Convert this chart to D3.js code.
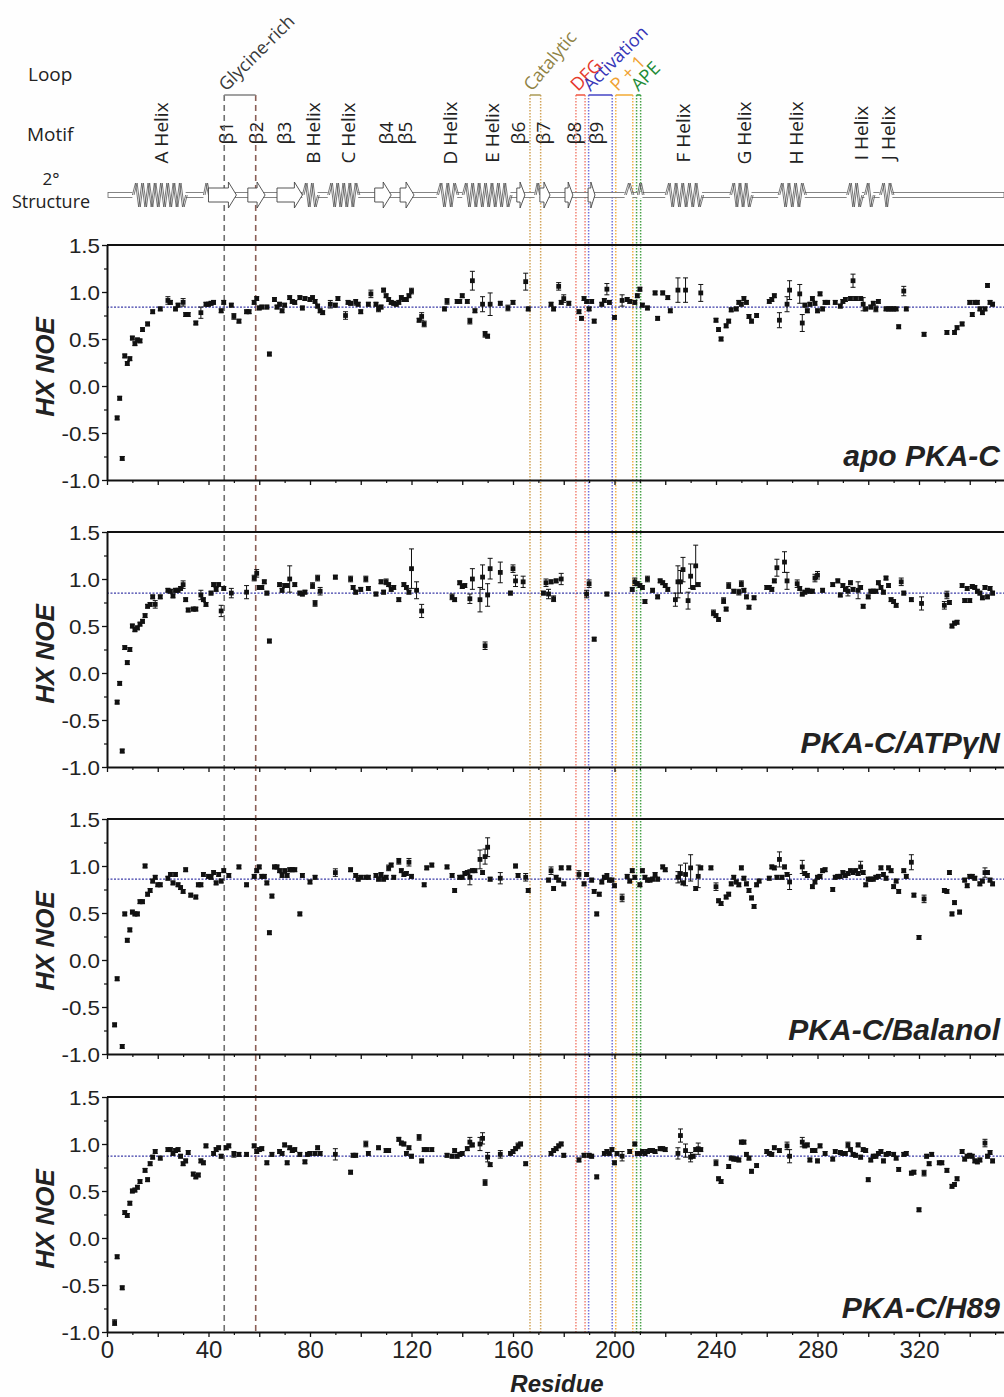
<!DOCTYPE html>
<html>
<head>
<meta charset="utf-8">
<script src="https://cdn.jsdelivr.net/npm/d3@7"></script>
<style>
  body { margin: 0; background: #fefefe; }
  svg { display: block; }
</style>
</head>
<body>
<svg id="chart" width="1004" height="1397"></svg>
<script>
// ---- Data: [residue, HX NOE, error] ----
const apoData = [[4,-0.34],[5,-0.13],[6,-0.77],[7,0.32],[8,0.24],[9,0.29],[10,0.51],[11,0.45],[12,0.49],[13,0.48],[14,0.60],[16,0.66],[18,0.79],[21,0.82],[24,0.91,0.04],[25,0.89],[27,0.82],[28,0.86],[30,0.89,0.04],[31,0.76],[32,0.76],[35,0.67],[37,0.78,0.06],[39,0.87],[40,0.87],[41,0.88],[42,0.89],[45,0.80],[46,0.89],[49,0.86],[50,0.74,0.03],[52,0.69],[55,0.79],[56,0.79],[58,0.89],[59,0.93],[60,0.83],[61,0.84],[63,0.84],[64,0.34],[66,0.92],[67,0.84],[68,0.87],[69,0.80],[70,0.86],[72,0.94],[73,0.90],[74,0.89],[76,0.94],[77,0.83],[78,0.93],[80,0.92],[81,0.94],[82,0.90],[83,0.85],[84,0.80],[85,0.78],[88,0.87,0.04],[90,0.86],[91,0.93],[94,0.75,0.04],[95,0.89],[96,0.88],[98,0.89,0.03],[99,0.87],[100,0.79],[103,0.87],[104,0.98,0.04],[106,0.87],[107,0.82,0.03],[108,0.84],[109,1.02],[110,0.96],[111,0.92],[112,0.89],[113,0.88],[114,0.87],[115,0.89],[116,0.94],[117,0.92],[118,0.92],[119,0.96],[120,1.01,0.03],[123,0.70],[124,0.74,0.04],[125,0.66,0.03],[133,0.82],[134,0.90,0.03],[138,0.90],[139,0.90],[140,0.96],[142,0.90],[143,0.69,0.03],[144,1.12,0.10],[145,0.80],[148,0.87,0.08],[149,0.55,0.03],[150,0.53],[151,0.87,0.12],[155,0.88],[158,0.83,0.03],[160,0.89],[165,1.11,0.09],[166,0.82],[175,0.87],[176,0.82],[178,1.06,0.04],[179,0.89],[180,0.93,0.04],[182,0.88],[186,0.79],[187,0.72],[188,0.93],[189,0.90],[190,0.82],[191,0.90],[192,0.69],[195,0.87],[196,0.91],[197,1.03,0.06],[198,0.89],[200,0.73],[203,0.91,0.06],[205,0.92],[206,0.90],[208,0.89],[209,0.96],[210,1.03],[211,0.86],[213,0.83],[216,0.99],[217,0.72],[219,0.99],[221,0.94],[222,0.80],[225,1.02,0.13],[228,1.02,0.13],[234,0.99,0.09],[240,0.70],[241,0.60],[242,0.50],[244,0.64],[245,0.69],[246,0.81],[248,0.82],[249,0.89],[250,0.87],[251,0.93],[252,0.89],[253,0.74],[254,0.69],[256,0.75],[261,0.90],[262,0.92],[263,0.96],[265,0.70,0.08],[268,0.87,0.08],[269,1.02,0.10],[273,0.98,0.10],[274,0.67,0.09],[275,0.86],[276,0.80],[277,0.87],[278,0.93],[279,0.88],[280,0.80],[281,0.98],[282,0.82],[283,0.89],[284,0.89],[287,0.89],[289,0.85],[290,0.90],[291,0.92],[293,0.93],[294,1.12,0.07],[295,0.93],[297,0.93],[298,0.87,0.07],[299,0.82],[301,0.84],[302,0.88],[303,0.82,0.03],[304,0.90],[307,0.82],[308,0.82],[309,0.82],[310,0.82],[311,0.82],[312,0.63],[314,1.01,0.05],[315,0.82],[322,0.55],[331,0.57],[334,0.57],[335,0.62],[337,0.66],[340,0.89],[341,0.76],[342,0.89],[343,0.89],[344,0.82],[345,0.78],[346,0.82],[347,1.07],[348,0.89],[349,0.87]];

const atpData = [[4,-0.31],[5,-0.11],[6,-0.83],[7,0.27],[8,0.11],[9,0.25],[10,0.50],[11,0.46],[12,0.48],[13,0.52],[14,0.55],[15,0.61],[16,0.71],[17,0.73],[18,0.81],[19,0.73,0.04],[21,0.81],[24,0.88],[25,0.87],[26,0.82],[27,0.88],[28,0.88],[29,0.90],[30,0.94,0.04],[31,0.78],[32,0.67],[34,0.68],[35,0.68],[37,0.83,0.05],[38,0.78],[39,0.73],[41,0.85],[42,0.94],[43,0.89],[44,0.94],[45,0.66,0.06],[46,0.90],[49,0.85,0.05],[55,0.86,0.07],[58,1.01,0.03],[59,1.06,0.04],[60,0.91],[61,0.91],[62,0.97],[63,0.85],[64,0.34],[68,0.94],[69,0.88],[70,0.93],[71,0.93],[72,1.00,0.14],[74,0.94],[76,0.85],[77,0.84],[78,0.86],[81,0.93,0.03],[82,0.74,0.03],[83,1.01,0.03],[84,0.87,0.04],[90,1.02],[96,1.00,0.03],[97,0.91],[98,0.86],[100,0.89],[102,1.00,0.03],[103,0.90],[106,0.84],[108,0.97],[109,0.86],[110,0.97,0.03],[111,0.94],[112,0.89],[113,0.91],[115,0.78],[117,0.94],[118,0.91],[119,0.86],[120,1.11,0.21],[122,0.88,0.09],[124,0.66,0.07],[136,0.81,0.03],[137,0.78],[139,0.96],[140,0.92],[141,0.93],[143,0.79,0.05],[144,1.00,0.11],[147,0.78,0.13],[148,1.02,0.13],[149,0.29,0.04],[150,0.83,0.12],[151,1.11,0.11],[155,1.07,0.11],[159,0.85],[160,1.11,0.04],[161,0.98,0.06],[164,0.97,0.06],[172,0.85],[173,0.96,0.04],[174,0.84,0.05],[175,0.97],[176,0.79,0.03],[177,0.98],[179,1.00,0.06],[189,0.84,0.04],[190,0.95,0.04],[192,0.36],[197,0.84],[207,0.89],[208,0.97,0.04],[209,0.95],[210,0.93],[211,0.91],[212,0.76],[213,1.00,0.03],[215,0.88],[217,0.81],[218,0.98],[219,0.96],[220,0.93],[221,0.89],[224,0.78,0.07],[225,0.97,0.17],[226,0.97,0.12],[227,1.10,0.13],[229,0.77,0.09],[230,1.03,0.13],[231,0.91],[232,1.14,0.22],[233,0.94],[239,0.64,0.03],[240,0.61],[241,0.57],[243,0.77,0.03],[244,0.68],[245,0.93,0.03],[247,0.87],[249,0.86,0.03],[250,0.95,0.03],[251,0.88],[252,0.81],[253,0.70],[255,0.80],[260,0.91],[261,0.91],[262,0.89],[263,0.98],[264,1.12,0.09],[267,1.18,0.11],[268,0.98,0.09],[272,0.95,0.04],[273,0.90],[274,0.84],[275,0.86],[276,0.88],[277,0.87],[278,0.87],[279,1.01,0.04],[280,1.04,0.04],[282,0.88],[286,0.94],[288,0.98],[289,0.83],[290,0.93],[291,0.89],[292,0.87,0.05],[293,0.96],[294,0.89],[296,0.88,0.09],[297,0.91],[298,0.71],[300,0.81],[301,0.87],[302,0.87],[303,0.87],[304,0.96],[305,0.91],[306,0.86],[307,1.01],[308,0.93],[309,0.78],[310,0.76],[311,0.72],[313,0.97,0.04],[314,0.85],[317,0.78],[321,0.74,0.07],[330,0.72,0.04],[331,0.83,0.04],[332,0.75],[333,0.50],[334,0.53],[335,0.54],[337,0.93],[338,0.77],[339,0.90],[340,0.77],[341,0.92],[342,0.91],[343,0.87],[344,0.85],[345,0.80],[346,0.91],[347,0.81],[348,0.90],[349,0.85]];

const balanolData = [[3,-0.69],[4,-0.20],[6,-0.92],[7,0.49],[8,0.21],[9,0.32],[10,0.51],[11,0.49],[12,0.49],[13,0.62],[14,0.62],[15,1.00],[16,0.70],[17,0.74],[18,0.84],[19,0.88],[20,0.80],[21,0.80],[24,0.87],[25,0.91],[26,0.82],[27,0.91],[28,0.80],[29,0.77],[30,0.73],[31,0.96],[33,0.69],[35,0.67],[36,0.80],[37,0.80],[38,0.91],[40,0.89],[41,0.88],[42,0.93],[43,0.82],[44,0.91],[45,0.84],[46,0.95],[48,0.90],[52,0.99],[55,0.80],[58,0.89],[59,0.95],[60,0.99],[61,0.89],[62,0.89],[63,0.82],[64,0.29],[65,0.68],[66,0.99],[67,0.99],[68,0.95],[69,0.90],[70,0.95],[71,0.90],[72,0.96],[73,0.96],[74,0.96],[76,0.49],[77,0.90],[80,0.83],[82,0.88],[90,0.93,0.04],[96,0.96],[98,0.90],[99,0.86],[100,0.88],[102,0.88],[103,0.88],[106,0.90],[107,0.86],[108,0.91],[109,0.86],[110,0.88],[111,0.98,0.03],[112,1.01],[113,0.88],[115,1.05,0.03],[116,0.95],[117,0.91],[118,0.92],[119,1.04,0.04],[120,0.89],[125,0.80],[126,0.98],[128,1.01],[134,0.99],[136,0.90],[137,0.74],[139,0.88],[140,0.88],[141,0.92],[142,0.93],[143,0.88,0.08],[144,0.95],[145,0.95],[147,1.07,0.10],[148,0.93],[149,1.10,0.08],[150,1.20,0.10],[151,0.86],[155,0.87,0.06],[161,1.00],[162,0.90],[165,0.88,0.04],[166,0.74],[174,0.85],[175,0.95,0.04],[176,0.76],[177,0.88],[178,0.85],[179,0.98],[180,0.81],[182,0.98],[186,0.91,0.04],[188,0.81],[189,0.91],[191,0.85],[192,0.73],[193,0.49],[194,0.70],[195,0.83],[196,0.88],[197,0.89,0.03],[198,0.85],[199,0.85],[200,0.79],[203,0.66,0.04],[205,0.89],[206,0.84],[207,0.95],[208,0.88],[210,0.80],[211,0.95],[212,0.88],[213,0.85],[214,0.85],[215,0.86],[216,0.91],[217,0.86],[219,0.99],[220,0.96],[225,0.88,0.06],[226,0.92,0.09],[227,0.82],[228,0.91,0.12],[230,0.98,0.14],[232,0.76],[233,0.89,0.12],[234,0.98],[238,0.98],[240,0.78,0.04],[241,0.63],[242,0.60],[244,0.67],[245,0.70],[246,0.81],[247,0.88],[248,0.83],[249,0.80],[250,0.98],[251,0.87],[252,0.81],[253,0.74],[254,0.66],[255,0.57],[256,0.80],[257,0.84],[261,0.87],[262,0.99],[263,0.98],[264,0.88],[265,1.07,0.08],[266,0.88],[267,0.99],[268,0.91],[269,0.83,0.08],[274,0.99,0.07],[275,0.92],[276,0.90],[278,0.78],[279,0.83],[280,0.88],[281,0.89],[282,0.95],[283,0.96],[286,0.75],[287,0.88],[288,0.89],[289,0.89],[290,0.93],[291,0.90],[292,0.92],[293,0.95],[294,0.93],[295,0.95],[296,0.92],[297,0.99,0.06],[298,0.93],[299,0.80],[300,0.86],[301,0.86],[302,0.86],[303,0.88],[304,0.89],[305,0.98],[306,0.91],[307,0.87],[308,0.98],[309,0.95],[310,0.78],[311,0.84],[312,0.73],[314,0.95],[315,0.89],[317,1.04,0.08],[318,0.69],[320,0.24],[322,0.65,0.04],[330,0.74],[331,0.73],[332,0.93],[333,0.49],[334,0.61],[336,0.51],[338,0.85],[339,0.79],[340,0.89],[341,0.89],[342,0.87],[344,0.81],[345,0.84],[346,0.93,0.05],[347,0.93],[348,0.85],[349,0.81]];

const h89Data = [[3,-0.90,0.03],[4,-0.20],[6,-0.53],[7,0.27],[8,0.24],[9,0.37],[10,0.50],[11,0.51],[12,0.54],[13,0.60],[15,0.72],[16,0.62],[17,0.79],[18,0.86],[19,0.92],[21,0.85],[24,0.94],[25,0.94],[26,0.90],[27,0.93],[28,0.94],[29,0.87],[30,0.79],[31,0.82],[32,0.91],[34,0.68],[35,0.65],[36,0.67],[37,0.82],[38,0.80],[39,0.98],[42,0.90],[43,0.94],[44,0.96],[45,0.87],[47,0.96],[48,0.98],[50,0.89,0.03],[52,0.89],[55,0.89],[58,0.98],[59,0.92],[60,0.94],[61,0.95],[63,0.80],[65,0.89],[68,0.92],[69,0.90],[70,0.99],[71,0.80],[72,0.96],[73,0.93],[74,0.94],[76,0.89],[78,0.81],[79,0.89],[80,0.90],[82,0.90],[83,0.96],[84,0.90],[90,0.89,0.06],[96,0.70],[97,0.88],[98,0.88],[102,1.00,0.03],[103,0.90],[107,0.96],[110,0.93],[111,0.93],[115,1.05],[116,1.01],[117,1.00],[118,0.90],[119,0.96],[120,0.87],[123,1.07,0.03],[124,0.82],[125,0.94],[126,0.94],[128,0.94],[134,0.88],[136,0.87],[137,0.93],[138,0.87],[139,0.89],[140,0.90],[142,0.95],[143,1.02,0.05],[144,0.99],[147,1.00,0.07],[148,1.06,0.06],[149,0.59,0.03],[150,0.86,0.05],[151,0.78],[155,0.89,0.04],[159,0.90],[160,0.92],[161,0.95],[162,0.98,0.03],[163,1.00],[165,0.79],[175,0.90],[176,0.93],[177,0.95],[178,0.98],[179,1.00],[180,0.88],[186,0.83],[188,0.88],[190,0.88],[191,0.87],[193,0.65],[196,0.90],[197,0.92],[198,0.90],[199,0.94],[200,0.80],[201,0.90],[203,0.87,0.05],[206,0.92],[208,1.00],[209,0.90],[210,0.90],[211,0.92],[212,0.90],[213,0.92],[214,0.93],[215,0.93],[216,0.92],[218,0.95],[219,0.95],[220,0.94],[225,0.90,0.06],[226,1.09,0.07],[228,0.93,0.07],[230,0.86,0.05],[231,0.87],[232,0.94],[233,0.95,0.06],[234,0.94],[240,0.80,0.03],[241,0.63],[242,0.60],[245,0.76],[246,0.85],[247,0.84],[248,0.84],[249,0.83],[250,1.02],[251,1.02],[252,0.89],[253,0.85],[254,0.71],[256,0.77],[260,0.92],[261,0.90],[262,0.89],[263,0.96],[265,0.93],[268,0.98,0.04],[269,0.87,0.07],[274,1.02,0.05],[275,0.98],[276,0.99],[277,0.83],[278,0.93],[279,0.93],[280,0.82],[281,0.98],[283,0.90],[286,0.84],[287,0.92],[289,0.91],[290,0.90],[291,0.90],[292,0.99,0.03],[293,0.94],[294,0.89],[295,0.88],[296,0.99],[297,0.86],[298,0.94],[299,0.93],[300,0.62],[301,0.83],[302,0.87],[303,0.87],[304,0.90],[305,0.92],[306,0.82],[307,0.89],[308,0.90],[310,0.89],[311,0.85],[312,0.73],[314,0.89],[315,0.90],[317,0.69],[318,0.70],[320,0.30],[322,0.69,0.03],[323,0.87],[324,0.79],[325,0.89],[328,0.80],[329,0.80],[331,0.72],[333,0.55],[334,0.57],[335,0.63],[337,0.92],[338,0.84],[339,0.87],[340,0.88],[341,0.87],[342,0.82],[343,0.81],[344,0.83],[346,1.01,0.04],[347,0.87],[348,0.91],[349,0.82]];

const panelTitles = ["apo PKA-C", "PKA-C/ATP\u03B3N", "PKA-C/Balanol", "PKA-C/H89"];
const panelData = [apoData, atpData, balanolData, h89Data];
const meanNoe = [0.84, 0.85, 0.86, 0.87];

const yTicks = [-1.0, -0.5, 0.0, 0.5, 1.0, 1.5];
const yMinorTicks = [-0.75, -0.25, 0.25, 0.75, 1.25];
const xTicks = d3.range(0, 341, 20);
const xMinorTicks = d3.range(10, 351, 20);

// Secondary structure (residue ranges)
const helices = [[10,31],[38,40],[77,83],[87,99],[130,138],[140,159],[168.5,170.5],[204,207],[209,211],[220,234.5],[245.5,254],[264.5,275],[291.5,297.5],[298.5,302],[304.5,309.5]];
const strands = [[40,51],[55.5,62.3],[67,77],[105.5,112],[115.5,121],[161.5,164.7],[170.6,174.6],[180.5,183.6],[189.6,192.3]];

// Motif labels (residue position of label)
const motifNames = ["A Helix","\u03B21","\u03B22","\u03B23","B Helix","C Helix","\u03B24","\u03B25","D Helix","E Helix","\u03B26","\u03B27","\u03B28","\u03B29","F Helix","G Helix","H Helix","I Helix","J Helix"];
const motifPos = [21.6,47.2,59,69.9,81.3,95.1,110,117.8,135.2,152.1,162.1,171.9,184.4,193,227.1,251.4,271.8,297.4,307.9];

// Loops: name, boundaries (residues)
const loopNames = ["Glycine-rich","Catalytic","DFG","Activation","P + 1","APE"];
const loopStart = [46.2,166.7,184.8,189.8,200.5,208.7];
const loopEnd = [58.6,170.9,188.4,199.1,207.2,210.3];
const loopTextColor = ["#3a3a3a","#8f8244","#e5392b","#3636b8","#f0a232","#208a34"];
const loopBarColor = ["#8a8a8a","#b0a060","#f0604c","#5050c8","#f3b040","#2f9a40"];
const loopLineColor = [["#707070","#8a5e55"],["#d2a45a","#d2a45a"],["#f28474","#f28474"],["#7070dc","#7070dc"],["#f4b24a","#f4b24a"],["#48a248","#48a248"]];

// ---- Layout ----
const W = 1004, H = 1397;
const svg = d3.select("#chart");
svg.append("rect").attr("width", W).attr("height", H).attr("fill", "#fefefe");

const x = d3.scaleLinear().domain([0, 353.5]).range([107, 1004]);
const panelTop = [245, 532, 819, 1097];
const panelH = 235;
const numFont = "'Liberation Sans', Arial, sans-serif";
const hdrFont = "'Open Sans', 'Noto Sans', sans-serif";

// ---- Header labels ----
const hdr = svg.append("g").attr("font-family", hdrFont).attr("fill", "#222").attr("font-size", 19);
hdr.append("text").attr("x", 28).attr("y", 81).text("Loop");
hdr.append("text").attr("x", 27).attr("y", 141).text("Motif");
hdr.append("text").attr("x", 51).attr("y", 185).attr("font-size", 17).attr("text-anchor", "middle").text("2\u00B0");
hdr.append("text").attr("x", 51).attr("y", 208).attr("font-size", 18).attr("text-anchor", "middle").text("Structure");

// Motif labels (vertical)
hdr.selectAll("text.motif").data(motifNames).join("text")
  .attr("class", "motif")
  .attr("text-anchor", "middle")
  .attr("transform", (d, i) => `translate(${x(motifPos[i]) + 6.5},133) rotate(-90)`)
  .text(d => d);

// ---- Vertical loop boundary lines (run through all panels) ----
const lineTop = 95, lineBottom = panelTop[3] + panelH;
const vlines = svg.append("g");
loopNames.forEach((name, i) => {
  [loopStart[i], loopEnd[i]].forEach((r, k) => {
    vlines.append("line")
      .attr("x1", x(r)).attr("x2", x(r))
      .attr("y1", lineTop).attr("y2", lineBottom)
      .attr("stroke", loopLineColor[i][k])
      .attr("stroke-width", i === 0 ? 1.6 : 1.5)
      .attr("stroke-dasharray", i === 0 ? "6,4" : "1.5,1.5");
  });
  // bracket
  svg.append("line")
    .attr("x1", x(loopStart[i])).attr("x2", x(loopEnd[i]))
    .attr("y1", lineTop).attr("y2", lineTop)
    .attr("stroke", loopBarColor[i]).attr("stroke-width", 1.6);
  // rotated label
  svg.append("text")
    .attr("transform", `translate(${x(loopStart[i]) + 2},${lineTop - 3}) rotate(${i === 1 ? -50 : -45})`)
    .attr("font-family", hdrFont).attr("font-size", 18)
    .attr("fill", loopTextColor[i])
    .text(name);
});

// ---- Secondary structure track ----
const ssY = 195;
const ss = svg.append("g");
ss.append("rect").attr("x", x(0.4)).attr("y", ssY - 2.5).attr("width", W - x(0.4)).attr("height", 5)
  .attr("fill", "#fff").attr("stroke", "#666").attr("stroke-width", 0.8);

helices.forEach(([a, b]) => {
  const xa = x(a), xb = x(b);
  ss.append("rect").attr("x", xa).attr("y", ssY - 3.5).attr("width", xb - xa).attr("height", 7).attr("fill", "#fefefe");
  const n = Math.max(2, Math.round((xb - xa) / 3.2));
  [0, 1.6].forEach(off => {
    const pts = [[xa + off, ssY]];
    for (let k = 1; k < n; k++) {
      pts.push([xa + off + k * (xb - xa) / n, k % 2 ? ssY - 12 : ssY + 12]);
    }
    pts.push([xb + off, ssY]);
    ss.append("path").attr("d", d3.line()(pts)).attr("fill", "none")
      .attr("stroke", "#555").attr("stroke-width", 0.8);
  });
});

strands.forEach(([a, b]) => {
  const xa = x(a), xb = x(b);
  const head = Math.min(8, (xb - xa) * 0.6);
  const xh = xb - head;
  const p = `M${xa},${ssY - 7}H${xh}V${ssY - 13}L${xb},${ssY}L${xh},${ssY + 13}V${ssY + 7}H${xa}Z`;
  ss.append("path").attr("d", p).attr("fill", "#fff").attr("stroke", "#444").attr("stroke-width", 0.9);
});

// ---- Panels ----
panelData.forEach((data, pi) => {
  const top = panelTop[pi], bottom = top + panelH;
  const y = d3.scaleLinear().domain([-1, 1.5]).range([bottom, top]);
  const g = svg.append("g");

  // mean NOE reference line
  g.append("line").attr("x1", x(0)).attr("x2", W)
    .attr("y1", y(meanNoe[pi])).attr("y2", y(meanNoe[pi]))
    .attr("stroke", "#3c3ca8").attr("stroke-width", 1.2).attr("stroke-dasharray", "2,1.5");

  // top frame
  g.append("line").attr("x1", x(0)).attr("x2", W).attr("y1", top).attr("y2", top)
    .attr("stroke", "#111").attr("stroke-width", 2);

  // y axis (major + minor)
  const yAxis = g.append("g").attr("transform", `translate(${x(0)},0)`)
    .call(d3.axisLeft(y).tickValues(yTicks).tickFormat(v => v.toFixed(1)).tickSize(5).tickSizeOuter(0).tickPadding(2));
  yAxis.select(".domain").attr("stroke", "#111").attr("stroke-width", 2);
  yAxis.selectAll(".tick line").attr("stroke", "#111").attr("stroke-width", 1.3);
  yAxis.selectAll("text").attr("font-family", numFont).attr("font-size", 20).attr("fill", "#222")
    .attr("transform", "scale(1.12,1)").attr("dy", "0.36em");
  yAxis.selectAll(".tick text").attr("x", -7 / 1.12);
  const yMinor = g.append("g").attr("transform", `translate(${x(0)},0)`)
    .call(d3.axisLeft(y).tickValues(yMinorTicks).tickFormat("").tickSize(3).tickSizeOuter(0));
  yMinor.select(".domain").remove();
  yMinor.selectAll(".tick line").attr("stroke", "#111").attr("stroke-width", 1.2);

  // x axis (major + minor)
  const isLast = pi === panelData.length - 1;
  const xAxis = g.append("g").attr("transform", `translate(0,${bottom})`)
    .call(d3.axisBottom(x).tickValues(xTicks)
      .tickFormat(v => (isLast && v % 40 === 0 && v <= 320) ? String(v) : "")
      .tickSize(5).tickSizeOuter(0).tickPadding(4));
  xAxis.select(".domain").attr("stroke", "#111").attr("stroke-width", 2);
  xAxis.selectAll(".tick line").attr("stroke", "#111").attr("stroke-width", 1.3);
  xAxis.selectAll("text").attr("font-family", numFont).attr("font-size", 24).attr("fill", "#222");
  const xMinor = g.append("g").attr("transform", `translate(0,${bottom})`)
    .call(d3.axisBottom(x).tickValues(xMinorTicks).tickFormat("").tickSize(3).tickSizeOuter(0));
  xMinor.select(".domain").remove();
  xMinor.selectAll(".tick line").attr("stroke", "#111").attr("stroke-width", 1.2);

  // y label
  g.append("text")
    .attr("transform", `translate(54,${top + 122}) rotate(-90)`)
    .attr("text-anchor", "middle")
    .attr("font-family", numFont).attr("font-size", 26)
    .attr("font-weight", "bold").attr("font-style", "italic").attr("fill", "#222")
    .text("HX NOE");

  // panel title
  g.append("text")
    .attr("x", 1000).attr("y", bottom - 14)
    .attr("text-anchor", "end")
    .attr("font-family", numFont).attr("font-size", 30)
    .attr("font-weight", "bold").attr("font-style", "italic").attr("fill", "#222")
    .text(panelTitles[pi]);

  // error bars
  const pts = g.append("g");
  data.forEach(d => {
    const cx = x(d[0]), e = d[2] !== undefined ? d[2] : 0.02;
    const y0 = y(d[1] - e), y1 = y(d[1] + e);
    pts.append("line").attr("x1", cx).attr("x2", cx).attr("y1", y0).attr("y2", y1)
      .attr("stroke", "#111").attr("stroke-width", 1);
    [y0, y1].forEach(yy => pts.append("line").attr("x1", cx - 2.5).attr("x2", cx + 2.5)
      .attr("y1", yy).attr("y2", yy).attr("stroke", "#111").attr("stroke-width", 1));
  });
  // points
  pts.selectAll("rect.pt").data(data).join("rect")
    .attr("class", "pt")
    .attr("x", d => x(d[0]) - 2.4).attr("y", d => y(d[1]) - 2.4)
    .attr("width", 4.8).attr("height", 4.8)
    .attr("fill", "#111");
});

// x axis title
svg.append("text")
  .attr("x", 557).attr("y", 1392)
  .attr("text-anchor", "middle")
  .attr("font-family", numFont).attr("font-size", 24)
  .attr("font-weight", "bold").attr("font-style", "italic").attr("fill", "#222")
  .text("Residue");
</script>
</body>
</html>
